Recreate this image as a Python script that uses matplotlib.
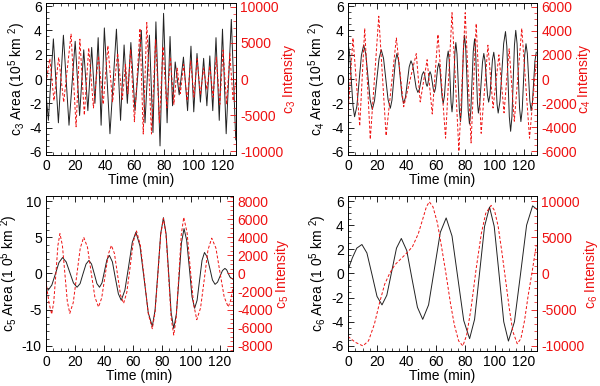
import matplotlib
matplotlib.use('Agg')
import matplotlib.pyplot as plt
from matplotlib.ticker import MultipleLocator

plt.rcParams['font.family'] = 'Liberation Sans'
plt.rcParams['mathtext.default'] = 'regular'
plt.rcParams['axes.unicode_minus'] = False
plt.rcParams['font.size'] = 10

# c3 (top left)
t1_area = [0, 1.6, 5.0, 8.4, 11.8, 15.6, 19.8, 22.8, 25.6, 28.4, 31.0, 33.2, 35.4, 37.4, 39.6, 43.4,
           47.8, 50.6, 53.0, 55.2, 57.6, 60.4, 64.7, 67.2, 70.2, 72.6, 74.6, 77.4, 79.8, 82.2, 84.2,
           85.9, 87.7, 90.4, 93.3, 96.1, 98.4, 100.3, 102.5, 104.8, 107.0, 109.2, 111.2, 113.2, 115.4,
           117.6, 119.8, 122.3, 125.8, 128.8]
v1_area = [-1.2, -3.4, 3.3, -3.6, 3.6, -3.8, 3.1, -3.0, 2.4, -2.6, 2.6, -2.0, 3.4, -3.8, 4.2, -4.5,
           4.1, -3.4, 2.8, -2.0, 3.0, -2.6, 4.0, -3.6, 3.6, -4.4, 4.7, -5.5, 5.4, -3.6, 3.5,
           -2.2, 1.4, -1.3, 1.8, -2.6, 2.7, -2.7, 2.1, -1.9, 1.7, -2.2, 1.9, -2.6, 3.4,
           -3.4, 4.1, -4.5, 4.9, -5.0]
t1_int = [0, 2.6, 5.4, 8.6, 12.0, 17.0, 20.4, 23.0, 26.0, 29.0, 32.2, 35.6, 38.8, 42.0, 45.2, 48.6,
          51.8, 54.0, 55.6, 57.4, 60.0, 63.8, 66.0, 68.4, 71.6, 74.4, 77.0, 79.4, 82.0, 84.4, 86.8,
          89.0, 91.2, 93.4, 95.8, 98.2, 100.4, 102.6, 104.8, 107.0, 109.2, 111.2, 113.4, 115.6, 118.0,
          120.2, 122.6, 124.8, 127.0, 129.0]
v1_int = [-500, 2800, -3000, 3000, -3200, 6200, -6600, 5500, -5000, 4300, -4000, 3200, -3500, 4600, -3200, 3600,
          -2800, 2000, -2000, 4100, -5900, 7000, -7600, 7800, -7600, 5500, -6000, 4500, -4000, 3000, -3500,
          1500, -2000, 2000, -3000, 2500, -2500, 2800, -2200, 1500, -1500, 1800, -2500, 3000, -3500,
          4000, -3500, 3500, -3000, 0]

# c4 (top right)
t2_area = [0, 1.1, 2.25, 3.4, 4.5, 6.05, 7.6, 9.15, 10.7, 12.2, 13.65, 15.1, 16.6, 18.1, 19.65, 21.2,
           22.7, 24.25, 25.8, 27.35, 28.9, 30.0, 31.15, 32.3, 33.4, 34.55, 35.7, 36.85, 38.0, 39.25,
           40.5, 41.75, 43.0, 44.2, 45.35, 46.5, 47.7, 48.7, 49.65, 50.6, 51.6, 52.2, 52.8, 53.4,
           54.0, 54.5, 55.0, 55.5, 56.0, 56.75, 57.5, 58.25, 59.0, 59.75, 60.5, 61.25, 62.0, 62.75,
           63.5, 64.25, 65.0, 65.85, 66.7, 67.55, 68.4, 69.05, 69.7, 70.35, 71.0, 71.65, 72.3, 72.95,
           73.6, 74.4, 75.2, 76.0, 76.8, 77.5, 78.15, 78.8, 79.5, 80.35, 81.2, 82.05, 82.9, 83.8,
           84.65, 85.5, 86.4, 87.05, 87.7, 88.35, 89.0, 89.9, 90.85, 91.8, 92.7, 93.5, 94.35, 95.2,
           96.0, 96.9, 97.75, 98.6, 99.5, 100.25, 101.0, 101.75, 102.5, 103.75, 105.0, 106.25, 107.5,
           108.4, 109.25, 110.1, 111.0, 111.9, 112.75, 113.6, 114.5, 115.4, 116.25, 117.1, 118.0,
           118.9, 119.75, 120.6, 121.5, 122.4, 123.25, 124.1, 125.0, 125.9, 126.75, 127.6, 128.5]
v2_area = [3.0, 2.11, -0.05, -2.21, -3.1, -2.24, -0.15, 1.94, 2.8, 2.02, 0.15, -1.72, -2.5, -1.78, -0.05, 1.68,
           2.4, 1.7, 0.0, -1.7, -2.4, -1.74, -0.15, 1.44, 2.1, 1.5, 0.05, -1.4, -2.0, -1.49,
           -0.25, 0.99, 1.5, 1.12, 0.2, -0.72, -1.1, -0.85, -0.25, 0.35, 0.6, 0.42, 0.0, -0.42,
           -0.6, -0.42, 0.0, 0.42, 0.6, 0.35, -0.25, -0.85, -1.1, -0.75, 0.1, 0.95, 1.3, 0.82,
           -0.35, -1.52, -2.0, -1.37, 0.15, 1.67, 2.3, 1.57, -0.2, -1.97, -2.7, -1.86, 0.15, 2.16,
           3.0, 2.05, -0.25, -2.55, -3.5, -2.46, 0.05, 2.56, 3.6, 2.53, -0.05, -2.63, -3.7, -2.67,
           -0.2, 2.27, 3.3, 2.41, 0.25, -1.91, -2.8, -2.08, -0.35, 1.38, 2.1, 1.51, 0.1, -1.31,
           -1.9, -1.3, 0.15, 1.6, 2.2, 1.47, -0.3, -2.07, -2.8, -1.82, 0.55, 2.92, 3.9,
           2.7, -0.2, -3.1, -4.3, -3.08, -0.15, 2.78, 4.0, 2.9, 0.25, -2.4, -3.5,
           -2.56, -0.3, 1.96, 2.9, 2.09, 0.15, -1.79, -2.6, -1.9, -0.2, 1.5, 2.2]
t2_int = [0, 3.4, 8.0, 11.4, 15.2, 21.0, 26.0, 33.0, 38.0, 46.6, 49.3, 54.0, 57.5, 61.4, 66.6, 71.0,
          75.7, 80.0, 84.0, 87.5, 90.9, 95.5, 99.0, 103.0, 106.5, 110.0, 113.5, 118.6, 123.9, 128.5]
v2_int = [-2900, 3400, -3900, 4200, -5000, 5200, -4700, 3400, -2300, 2100, -1900, 1600, -2900, 3700, -4900, 5500,
          -6000, 5500, -5300, 4600, -4500, 2800, -2400, 2000, -2800, 2500, -3500, 4200, -4900, 1500]

# c5 (bottom left)
t3_area = [0, 1.5, 4.0, 6.5, 8.9, 11.4, 13.9, 16.4, 18.9, 21.4, 23.5, 25.5, 27.6, 29.6, 31.4, 33.3,
           35.1, 36.9, 38.6, 40.3, 42.0, 43.7, 45.8, 47.8, 49.9, 51.9, 54.4, 57.0, 59.5, 62.0, 64.8,
           67.7, 70.5, 73.3, 75.2, 77.2, 79.1, 81.0, 82.8, 84.6, 86.3, 88.1, 89.9, 91.7, 93.4, 95.2,
           97.0, 98.9, 100.7, 102.5, 104.2, 105.9, 107.6, 109.3, 111.1, 113.0, 114.8, 116.6, 118.3,
           120.0, 121.7, 123.4, 124.6, 125.7, 126.9, 129.0]
v3_area = [-2.2, -2.3, -1.6, -0.05, 1.5, 2.2, 1.6, 0.15, -1.3, -1.9, -1.4, -0.05, 1.3, 1.8, 1.3, -0.05,
           -1.4, -1.9, -1.3, 0.3, 1.9, 2.5, 1.6, -0.6, -2.8, -3.7, -2.3, 1.0, 4.3, 5.7, 3.8,
           -0.8, -5.4, -7.3, -5.1, 0.2, 5.5, 7.7, 5.5, 0.05, -5.4, -7.6, -5.6, -0.7, 4.2, 6.2,
           4.6, 0.7, -3.2, -4.8, -3.7, -0.95, 1.8, 2.9, 2.3, 0.7, -0.9, -1.5, -1.2,
           -0.4, 0.4, 0.7, 0.5, 0.0, -0.5, -0.8]
t3_int = [0, 2.0, 3.9, 5.3, 6.8, 8.2, 9.6, 11.3, 13.0, 14.7, 16.4, 18.8, 21.2, 23.6, 26.0, 28.6,
          31.1, 33.7, 36.2, 38.4, 40.7, 42.9, 45.1, 47.2, 49.3, 51.4, 53.5, 55.7, 58.0, 60.2, 62.4,
          65.1, 67.9, 70.6, 73.3, 75.2, 77.2, 79.1, 81.0, 82.8, 84.6, 86.3, 88.1, 89.8, 91.6, 93.3,
          95.0, 97.3, 99.5, 101.8, 104.0, 106.6, 109.2, 111.7, 114.3, 117.2, 120.0, 122.9, 125.7,
          127.5, 129.0]
v3_int = [-900, -3200, -4500, -3200, -50, 3100, 4400, 3100, 0, -3100, -4400, -3200, -200, 2800, 4000, 2900,
          150, -2600, -3700, -2700, -300, 2100, 3100, 2200, -100, -2400, -3300, -2100, 700, 3500, 4700,
          3100, -700, -4500, -6100, -4300, 0, 4300, 6100, 4200, -350, -4900, -6800, -4900, -300, 4300,
          6200, 4500, 550, -3400, -5100, -3800, -600, 2600, 3900, 2800, 100, -2600, -3700,
          -2900, -1500]

# c6 (bottom right)
t4_area = [0, 3.0, 6.0, 9.5, 12.9, 16.4, 19.8, 23.2, 26.5, 29.8, 33.1, 36.4, 40.1, 43.7, 47.4, 51.0,
           55.0, 59.0, 63.0, 67.0, 71.0, 75.0, 79.0, 83.0, 86.4, 89.8, 93.2, 96.6, 99.8, 103.1,
           106.3, 109.5, 113.6, 117.8, 121.9, 126.0, 129.0]
v4_area = [0.3, 1.3, 2.1, 2.4, 1.7, -0.1, -1.9, -2.6, -1.8, 0.15, 2.1, 2.9, 1.9, -0.45, -2.8, -3.8,
           -2.6, 0.4, 3.4, 4.6, 3.1, -0.4, -3.9, -5.4, -3.8, 0.05, 3.9, 5.5, 3.9, -0.05,
           -4.0, -5.6, -4.0, 0.0, 4.0, 5.6, 5.3]
t4_int = [0, 5, 10.2, 14, 18, 21.6, 25, 28.4, 32, 36, 40, 44, 48, 51, 53.5, 55.5, 58, 61, 64, 67,
          70, 72.6, 75.5, 78.4, 81, 84, 87.5, 91, 94, 97.7, 100, 102.5, 105, 107.5, 110, 112.5,
          115.5, 118, 120.5, 123, 125.5, 128.5]
v4_int = [-8700, -9500, -10000, -9300, -7000, -4000, -1500, 0, 1200, 2000, 2800, 3700, 5500, 7500, 9200, 9900,
          9200, 7000, 3500, -200, -4200, -7100, -9300, -10000, -8500, -4800, 700, 5500, 8300, 9400, 8700,
          6500, 3000, -800, -4700, -8000, -9700, -9000, -6500, -3000, 0, 3900]

RED = '#ee1111'

# data, position, left ylim/major/minor, right ylim/major/minor, label x (left, right)
panels = [
    (t1_area, v1_area, t1_int, v1_int, '3', '10', [0.0767, 0.5984, 0.3167, 0.3938],
     6.25, 2, 0.5, 10500, 5000, 1000, -0.15, 1.28),
    (t2_area, v2_area, t2_int, v2_int, '4', '10', [0.58, 0.5984, 0.315, 0.3938],
     6.25, 2, 0.5, 6300, 2000, 500, -0.165, 1.25),
    (t3_area, v3_area, t3_int, v3_int, '5', '1 0', [0.0767, 0.0907, 0.3117, 0.4016],
     10.7, 5, 1, 8560, 2000, 500, -0.195, 1.26),
    (t4_area, v4_area, t4_int, v4_int, '6', '1 0', [0.58, 0.0907, 0.315, 0.4016],
     6.42, 2, 0.5, 10700, 5000, 1000, -0.16, 1.285),
]

fig = plt.figure(figsize=(6.0, 3.86), dpi=100)
for ta, va, ti, vi, n, ten, pos, ylim, ymaj, ymin, rlim, rmaj, rmin, lx, rx in panels:
    ax = fig.add_axes(pos)
    ax.plot(ta, va, color='#222222', lw=0.7)
    ax.set_xlim(0, 129)
    ax.set_ylim(-ylim, ylim)
    ax.xaxis.set_major_locator(MultipleLocator(20))
    ax.xaxis.set_minor_locator(MultipleLocator(5))
    ax.yaxis.set_major_locator(MultipleLocator(ymaj))
    ax.yaxis.set_minor_locator(MultipleLocator(ymin))
    ax.tick_params(which='both', direction='in', top=True, right=False)
    ax.tick_params(which='major', length=4, width=0.6, pad=3)
    ax.tick_params(which='minor', length=2, width=0.5)
    ax.set_xlabel('Time (min)', labelpad=0)
    ax.set_ylabel('c$_' + n + '$ Area (' + ten + '$^5$ km $^2$)', va='center')
    ax.yaxis.set_label_coords(lx, 0.5)
    for s in ax.spines.values():
        s.set_linewidth(0.6)

    ax2 = ax.twinx()
    ax2.plot(ti, vi, color=RED, lw=0.7, ls=(0, (3, 2)))
    ax2.set_ylim(-rlim, rlim)
    ax2.yaxis.set_major_locator(MultipleLocator(rmaj))
    ax2.yaxis.set_minor_locator(MultipleLocator(rmin))
    ax2.tick_params(which='both', direction='in', colors=RED)
    ax2.tick_params(which='major', length=4, width=0.6, pad=3)
    ax2.tick_params(which='minor', length=2, width=0.5)
    ax2.set_ylabel('c$_' + n + '$ Intensity', color=RED, va='center')
    ax2.yaxis.set_label_coords(rx, 0.5)
    for s in ax2.spines.values():
        s.set_linewidth(0.6)

fig.savefig('out.png', dpi=100)
